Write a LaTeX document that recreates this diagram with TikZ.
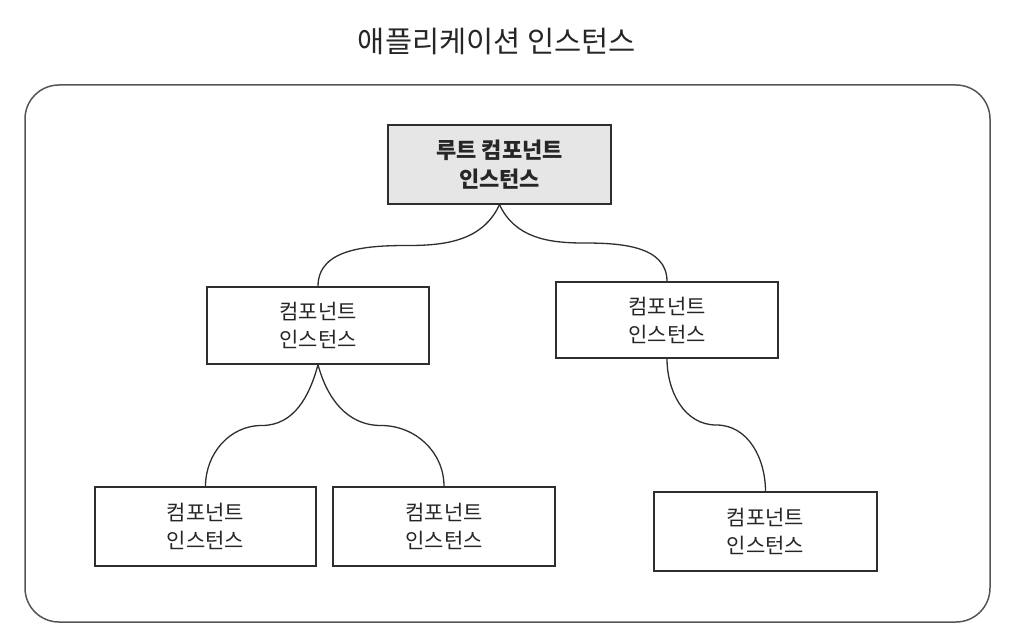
\documentclass[tikz,border=0pt]{standalone}
\usepackage{fontspec}
\newfontfamily\kr{Noto Sans CJK KR}
\usetikzlibrary{calc}
\definecolor{linec}{HTML}{2E2E2E}
\definecolor{framec}{HTML}{555555}
\definecolor{rootfill}{HTML}{E6E6E6}
\tikzset{
  inst/.style={draw=linec, line width=1.3pt, minimum width=222pt, minimum height=78pt,
    align=center, inner sep=0pt, font=\kr\fontsize{21}{28}\selectfont, text=black!85},
  rootbox/.style={inst, fill=rootfill, font=\kr\bfseries\fontsize{22}{29}\selectfont},
  link/.style={draw=linec, line width=1.3pt},
}
\begin{document}
\begin{tikzpicture}[x=1pt,y=-1pt]
\useasboundingbox (0,0) rectangle (1010,644);
\node[font=\kr\fontsize{29.5}{34}\selectfont, text=black!85] (title) at (497,41) {애플리케이션 인스턴스};
\draw[framec, line width=1.5pt, rounded corners=34pt] (25,85) rectangle (990,622);
\node[rootbox, minimum width=223pt, minimum height=79pt] (root) at (499.5,164.5) {루트 컴포넌트\\인스턴스};
\node[inst, minimum height=77pt] (m1) at (318,325.5) {컴포넌트\\인스턴스};
\node[inst, minimum height=76pt] (m2) at (667,320) {컴포넌트\\인스턴스};
\node[inst, minimum width=221pt, minimum height=79pt] (b1) at (205.5,526.5) {컴포넌트\\인스턴스};
\node[inst, minimum height=79pt] (b2) at (444,526.5) {컴포넌트\\인스턴스};
\node[inst, minimum width=223pt, minimum height=79pt] (b3) at (765.5,531.5) {컴포넌트\\인스턴스};
\coordinate (c1) at ($(root.south)!0.5!(m1.north)$);
\coordinate (c2) at ($(root.south)!0.5!(m2.north)$);
\coordinate (c3) at ($(m1.south)!0.5!(b1.north)$);
\coordinate (c4) at ($(m1.south)!0.5!(b2.north)$);
\coordinate (c5) at ($(m2.south)!0.5!(b3.north)$);
\draw[link] (root.south) to[out=-115,in=0] (c1) to[out=180,in=90] (m1.north);
\draw[link] (root.south) to[out=-65,in=180] (c2) to[out=0,in=90] (m2.north);
\draw[link] (m1.south) to[out=-105,in=0] (c3) to[out=180,in=90] (b1.north);
\draw[link] (m1.south) to[out=-75,in=180] (c4) to[out=0,in=90] (b2.north);
\draw[link] (m2.south) to[out=-90,in=180] (c5) to[out=0,in=90] (b3.north);
\end{tikzpicture}
\end{document}
